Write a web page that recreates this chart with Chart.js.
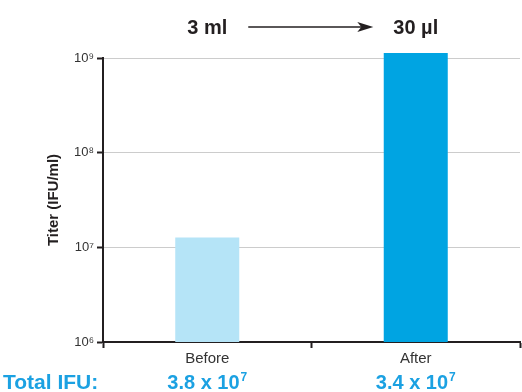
<!DOCTYPE html>
<html>
<head>
<meta charset="utf-8">
<script src="https://cdn.jsdelivr.net/npm/chart.js@4/dist/chart.umd.min.js"></script>
<style>
  html, body { margin: 0; padding: 0; background: #ffffff; }
  #wrap { width: 522px; height: 392px; }
</style>
</head>
<body>
<div id="wrap"><canvas id="c" width="522" height="392"></canvas></div>
<script>
// Concentration of a virus prep: titer before and after volume reduction
const categories = ['Before', 'After'];
const titer = [1.27e7, 1.13e9];            // IFU/ml
const volumes = ['3 ml', '30 µl'];
const totalMantissa = ['3.8', '3.4'];      // total IFU = mantissa x 10^exponent
const totalExponent = ['7', '7'];
const yTickExponents = [6, 7, 8, 9];
const barColors = ['#b5e4f7', '#00a4e2'];

const SUP = { '0': '⁰', '1': '¹', '2': '²', '3': '³', '4': '⁴', '5': '⁵', '6': '⁶', '7': '⁷', '8': '⁸', '9': '⁹' };
const FONT = '"Liberation Sans", Arial, Helvetica, sans-serif';
const DARK = '#231f20';
const BLUE = '#1ba1e2';

const annotations = {
  id: 'annotations',
  afterDraw(chart) {
    const ctx = chart.ctx;
    const x = chart.scales.x;
    ctx.save();

    // volumes above the bars, joined by an arrow
    ctx.fillStyle = DARK;
    ctx.font = 'bold 20px ' + FONT;
    ctx.textAlign = 'center';
    ctx.textBaseline = 'alphabetic';
    const cx = categories.map((_, i) => x.getPixelForValue(i));
    volumes.forEach((v, i) => ctx.fillText(v, cx[i], 34));
    const w0 = ctx.measureText(volumes[0]).width;
    const w1 = ctx.measureText(volumes[1]).width;
    const ax0 = cx[0] + w0 / 2 + 21;
    const ax1 = cx[1] - w1 / 2 - 20;
    const ay = 27;
    ctx.strokeStyle = DARK;
    ctx.lineWidth = 1.5;
    ctx.beginPath();
    ctx.moveTo(ax0, ay);
    ctx.lineTo(ax1 - 12, ay);
    ctx.stroke();
    ctx.beginPath();
    ctx.moveTo(ax1, ay);
    ctx.lineTo(ax1 - 16, ay - 5);
    ctx.lineTo(ax1 - 12, ay);
    ctx.lineTo(ax1 - 16, ay + 5);
    ctx.closePath();
    ctx.fill();

    // total IFU row
    const by = 389;
    ctx.fillStyle = BLUE;
    ctx.textAlign = 'left';
    ctx.font = 'bold 21px ' + FONT;
    ctx.fillText('Total IFU:', 3, by);
    totalMantissa.forEach((m, i) => {
      const base = m + ' x 10';
      ctx.font = 'bold 20px ' + FONT;
      const bw = ctx.measureText(base).width;
      ctx.font = 'bold 12px ' + FONT;
      const ew = ctx.measureText(totalExponent[i]).width;
      const left = cx[i] - (bw + ew + 1) / 2;
      ctx.font = 'bold 20px ' + FONT;
      ctx.fillText(base, left, by);
      ctx.font = 'bold 12px ' + FONT;
      ctx.fillText(totalExponent[i], left + bw + 1, by - 8);
    });
    ctx.restore();
  }
};

new Chart(document.getElementById('c'), {
  type: 'bar',
  data: {
    labels: categories,
    datasets: [{
      data: titer,
      backgroundColor: barColors,
      borderWidth: 0,
      barPercentage: 0.307,
      categoryPercentage: 1,
      clip: false
    }]
  },
  options: {
    responsive: false,
    devicePixelRatio: 1,
    animation: false,
    layout: { padding: { top: 58, right: 2, left: 0, bottom: 0 } },
    plugins: { legend: { display: false }, tooltip: { enabled: false } },
    scales: {
      x: {
        offset: true,
        afterFit(s) { s.height = 50; },
        grid: {
          offset: true,
          drawOnChartArea: false,
          drawTicks: true,
          tickLength: 6,
          tickColor: DARK,
          tickWidth: 2
        },
        border: { color: DARK, width: 2 },
        ticks: { color: '#333333', font: { family: FONT, size: 15 }, padding: 2 }
      },
      y: {
        type: 'logarithmic',
        min: 1e6,
        max: 1e9,
        afterFit(s) { s.width = 103; },
        afterBuildTicks(s) {
          s.ticks = yTickExponents.map(e => ({ value: Math.pow(10, e) }));
        },
        grid: {
          color: '#cccccc',
          lineWidth: 1,
          drawTicks: true,
          tickLength: 6,
          tickColor: DARK,
          tickWidth: 2
        },
        border: { color: DARK, width: 2 },
        ticks: {
          color: '#333333',
          font: { family: FONT, size: 13 },
          padding: 3,
          callback(v) {
            const e = Math.round(Math.log10(v));
            return '10' + String(e).split('').map(d => SUP[d]).join('');
          }
        },
        title: {
          display: true,
          text: 'Titer (IFU/ml)',
          color: DARK,
          font: { family: FONT, size: 15, weight: 'bold' },
          padding: { top: 45, bottom: 0 }
        }
      }
    }
  },
  plugins: [annotations]
});
</script>
</body>
</html>
